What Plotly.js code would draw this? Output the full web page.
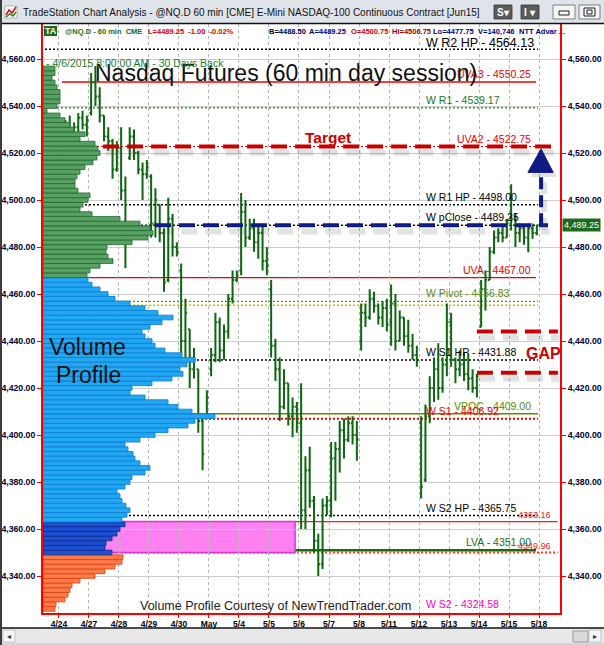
<!DOCTYPE html>
<html><head><meta charset="utf-8">
<script src="https://cdn.plot.ly/plotly-3.0.1.min.js"></script>
<style>html,body{margin:0;padding:0;background:#fff;overflow:hidden}#chart{width:604px;height:645px}</style>
</head><body><div id="chart"></div>
<script>
// ================= DATA =================
const dayLabels = ['4/24','4/27','4/28','4/29','4/30','May','5/4','5/5','5/6','5/7','5/8','5/11','5/12','5/13','5/14','5/15','5/18'];
const barsPerDay = 7; // 60-min day session bars

// hourly bars (7 per day), 4/24 .. 5/15
const barOpen = [
 4522,4526,4531,4529,4531,4535,4532,   // 4/24
 4537,4550,4544,4536,4527,4525,4513,   // 4/27
 4522,4504,4518,4527,4520,4513,4511,   // 4/28
 4510,4490,4498,4486,4466,4492,4480,   // 4/29
 4470,4440,4445,4428,4428,4406,4408,   // 4/30
 4428,4434,4448,4436,4444,4458,4466,   // 5/1
 4470,4495,4484,4488,4482,4486,4474,   // 5/4
 4462,4438,4428,4412,4422,4408,4412,   // 5/5
 4405,4368,4385,4372,4355,4345,4370,   // 5/6
 4372,4390,4394,4402,4398,4405,4400,   // 5/7
 4440,4452,4450,4458,4455,4450,4454,   // 5/8
 4448,4456,4440,4450,4442,4438,4434,   // 5/11
 4405,4381,4408,4420,4428,4420,4430,   // 5/12
 4448,4432,4428,4430,4426,4424,4420,   // 5/13
 4446,4462,4466,4478,4484,4486,4484,   // 5/14
 4500.75,4492,4486,4488,4484,4488,4486 // 5/15
];
const barHigh = [
 4528,4534,4536,4533,4537,4538,4536,
 4554,4557,4548,4536,4531,4526,4525,
 4531,4510,4531,4530,4521,4516,4517,
 4511,4505,4498,4488,4501,4494,4482,
 4473,4458,4445,4437,4428,4409,4419,
 4437,4452,4450,4447,4460,4470,4470,
 4503,4500,4492,4492,4490,4489,4480,
 4466,4441,4433,4428,4422,4416,4414,
 4422,4391,4395,4374,4358,4373,4374,
 4397,4397,4406,4407,4408,4408,4406,
 4456,4456,4462,4461,4456,4457,4458,
 4464,4460,4453,4450,4449,4443,4438,
 4408,4413,4425,4433,4439,4433,4456,
 4452,4433,4436,4435,4435,4428,4426,
 4466,4470,4480,4487,4488,4489,4492,
 4506.75,4494.5,4490,4488.5,4490,4490,4489.5
];
const barLow = [
 4515,4524,4527,4525,4528,4530,4527,
 4536,4540,4533,4525,4521,4509,4512,
 4500,4471,4517,4517,4511,4500,4509,
 4484,4484,4482,4461,4465,4476,4476,
 4432,4431,4420,4424,4401,4385,4407,
 4425,4431,4431,4432,4441,4456,4465,
 4468,4480,4483,4478,4475,4470,4468,
 4433,4423,4406,4411,4404,4399,4401,
 4360,4360,4369,4350,4340,4343,4366,
 4365,4372,4384,4390,4397,4396,4389,
 4436,4446,4449,4452,4447,4446,4444,
 4438,4436,4440,4438,4435,4432,4429,
 4373,4380,4405,4414,4415,4418,4425,
 4429,4422,4425,4423,4419,4418,4416,
 4446,4453,4466,4477,4482,4482,4484,
 4487,4480,4482,4481,4477.75,4483.5,4485
];
const barClose = [
 4526,4531,4529,4531,4535,4532,4534,
 4550,4544,4536,4527,4525,4513,4522,
 4504,4498,4527,4520,4513,4511,4514,
 4490,4500,4486,4465,4492,4480,4478,
 4440,4452,4428,4432,4406,4392,4416,
 4434,4448,4436,4444,4458,4466,4468,
 4495,4484,4488,4482,4486,4474,4472,
 4438,4428,4412,4422,4408,4412,4405,
 4368,4385,4372,4355,4345,4370,4372,
 4390,4394,4402,4398,4405,4400,4398,
 4452,4450,4458,4455,4450,4454,4447,
 4456,4440,4450,4442,4438,4434,4432,
 4378,4408,4420,4428,4420,4430,4448,
 4432,4428,4430,4426,4424,4420,4425,
 4462,4466,4478,4484,4486,4484,4490,
 4492,4486,4488,4484,4488,4486,4489.25
];

// volume profile (2-point price bins, 4326 .. 4556), relative volume
const profileLevels = [];
for (let p = 4326; p <= 4556; p += 2) profileLevels.push(p);
const profileVolume = [
 12,13,22,25,27,29,37,52,62,72,79,80,
 69,62,63,69,74,77,82,
 79,84,87,83,79,77,74,82,87,89,
 102,107,97,92,90,85,82,97,112,125,
 145,152,172,149,135,125,102,87,89,109,
 129,140,137,144,152,139,122,112,109,102,
 99,107,119,130,115,102,87,72,65,57,
 49,45,
 44,47,57,70,65,63,64,89,105,110,
 107,97,77,49,37,40,45,47,35,32,
 32,34,37,42,50,54,57,55,52,37,
 42,31,27,22,17,4,14,17,17,17,
 14,12,9,12,12
];

// key levels
const levelNames  = ['W R2 HP','UVA3','W R1','UVA2','W R1 HP','W pClose','UVA','W Pivot','W S1 HP','VPOC','W S1','W S2 HP','LVA','W S2'];
const levelValues = [4564.13,4550.25,4539.17,4522.75,4498.00,4489.25,4467.00,4456.83,4431.88,4409.00,4406.92,4365.75,4351.00,4324.58];
const extraLevels = [4455.25, 4363.16, 4349.96];
const gapLevels = [4444.0, 4426.5];
const lastPrice = 4489.25;

// ================= BUILD =================
const lv = n => levelValues[levelNames.indexOf(n)];
const barX = barOpen.map((_, k) => Math.floor(k / barsPerDay) + ((k % barsPerDay) + 0.5) / barsPerDay);
const PX = px => (px - 43) / 517;   // window pixel -> paper
const PY = py => (613 - py) / 589;
const FONT = 'Liberation Sans, Arial, sans-serif';
const yRange = [4324.26, 4574.9];
const yTicks = []; for (let v = 4340; v <= 4560; v += 20) yTicks.push(v);
const yText = yTicks.map(v => v.toLocaleString('en-US', {minimumFractionDigits: 2, maximumFractionDigits: 2}));

const uva = lv('UVA'), hiEdge = extraLevels[1], loEdge = extraLevels[2];
const profFill = profileLevels.map(p => p >= uva ? '#58a064' : p >= hiEdge ? '#22a8f2' : p >= loEdge ? '#1d4fd2' : '#ff7a48');
const profLine = profileLevels.map(p => p >= uva ? '#22692e' : p >= hiEdge ? '#0a7ad2' : p >= loEdge ? '#0a2a8e' : '#d8440e');

const traces = [
 {type: 'ohlc', x: barX, open: barOpen, high: barHigh, low: barLow, close: barClose,
  xaxis: 'x', yaxis: 'y', tickwidth: 0.4, hoverinfo: 'skip', showlegend: false,
  increasing: {line: {color: '#0d6610', width: 2}}, decreasing: {line: {color: '#0d6610', width: 2}}},
 {type: 'bar', orientation: 'h', x: profileVolume, y: profileLevels, width: 2, xaxis: 'x2', yaxis: 'y',
  marker: {color: profFill, line: {color: profLine, width: 0.8}}, hoverinfo: 'skip', showlegend: false},
 {type: 'scatter', x: [], y: [], xaxis: 'x', yaxis: 'y2', hoverinfo: 'skip', showlegend: false}
];

const shapes = [], ann = [];
const lineEnd = 15.97, labLeft = 12.17, labRight = 15.8;
const DOT = '2px,2px';
const style = {
 'W R2 HP': {c: '#000', d: DOT, w: 1.5, a: 'left', s: 12.5, mid: 6},
 'UVA3':    {c: '#ee0000', d: 'solid', w: 1.5, a: 'right', x0: 0.1, x1: 15.9},
 'W R1':    {c: '#1a7a1a', d: DOT, w: 1.3, a: 'left'},
 'UVA2':    {c: '#ee0000', d: DOT, w: 1, a: 'right'},
 'W R1 HP': {c: '#000', d: DOT, w: 1.5, a: 'left'},
 'W pClose':{c: '#000', d: DOT, w: 1.5, a: 'left'},
 'UVA':     {c: '#ee0000', d: 'solid', w: 1.3, a: 'right', x1: 15.9},
 'W Pivot': {c: '#5e8a0a', d: DOT, w: 1.3, a: 'left'},
 'W S1 HP': {c: '#000', d: DOT, w: 1.5, a: 'left'},
 'VPOC':    {c: '#5e8a00', d: 'solid', w: 1.5, a: 'right'},
 'W S1':    {c: '#ee0000', d: DOT, w: 2, a: 'left'},
 'W S2 HP': {c: '#000', d: DOT, w: 1.3, a: 'left'},
 'LVA':     {c: '#157015', d: 'solid', w: 2.5, a: 'right', x1: 15.9},
 'W S2':    {c: '#ff00cc', d: 'none', w: 0, a: 'left'}
};
levelNames.forEach((n, i) => {
  const st = style[n], v = levelValues[i];
  if (st.d !== 'none') shapes.push({type: 'line', layer: 'below', xref: 'x', yref: 'y', x0: st.x0 !== undefined ? st.x0 : -1, x1: st.x1 || lineEnd, y0: v, y1: v,
    line: {color: st.c, width: st.w, dash: st.d}});
  ann.push({xref: 'x', yref: 'y', x: st.a === 'left' ? labLeft : labRight, y: v, xanchor: st.a,
    yanchor: st.mid ? 'middle' : 'bottom', yshift: st.mid || 0,
    text: n + ' - ' + v.toFixed(2), showarrow: false, font: {family: FONT, size: st.s || 10.5, color: st.c}});
});
// extra unlabeled / small labeled lines
shapes.push({type: 'line', layer: 'below', xref: 'x', yref: 'y', x0: -1, x1: lineEnd, y0: extraLevels[0], y1: extraLevels[0], line: {color: '#c4c400', width: 1.5, dash: DOT}});
shapes.push({type: 'line', layer: 'below', xref: 'x', yref: 'y', x0: -1, x1: 16.62, y0: extraLevels[1], y1: extraLevels[1], line: {color: '#ff1a1a', width: 1.3}});
shapes.push({type: 'line', layer: 'below', xref: 'x', yref: 'y', x0: -1, x1: 16.62, y0: extraLevels[2], y1: extraLevels[2], line: {color: '#ff3a1a', width: 2, dash: DOT}});
[1, 2].forEach(k => ann.push({xref: 'x', yref: 'y', x: 16.47, y: extraLevels[k], xanchor: 'right', yanchor: 'bottom',
  text: extraLevels[k].toFixed(2), showarrow: false, font: {family: FONT, size: 9, color: '#ee1a1a'}}));
// pink low-volume zone
shapes.push({type: 'rect', layer: 'below', xref: 'x', yref: 'y', x0: -1, x1: 7.87, y0: extraLevels[2], y1: extraLevels[1],
  fillcolor: '#ff80f0', line: {color: '#e030d8', width: 1.5}});

// ---- hand drawn annotations ----
const tgt = lv('UVA2'), pc = lv('W pClose');
const RD = '16px,8px';
const shadow = 'rgba(60,60,60,0.15)';
shapes.push({type: 'line', layer: 'above', xref: 'x', yref: 'y', x0: 1.55, x1: 16.65, y0: tgt - 2.6, y1: tgt - 2.6, line: {color: shadow, width: 6, dash: RD}});
shapes.push({type: 'line', layer: 'above', xref: 'x', yref: 'y', x0: 1.47, x1: 16.6, y0: tgt, y1: tgt, line: {color: '#c80000', width: 4, dash: RD}});
shapes.push({type: 'line', layer: 'above', xref: 'x', yref: 'y', x0: 3.28, x1: 16.35, y0: pc - 2.6, y1: pc - 2.6, line: {color: shadow, width: 6, dash: RD}});
shapes.push({type: 'line', layer: 'above', xref: 'x', yref: 'y', x0: 3.2, x1: 16.3, y0: pc, y1: pc, line: {color: '#101a85', width: 4, dash: RD}});
gapLevels.forEach(g => {
  shapes.push({type: 'line', layer: 'above', xref: 'x', yref: 'y', x0: 14.0, x1: 16.68, y0: g - 2.6, y1: g - 2.6, line: {color: shadow, width: 6, dash: RD}});
  shapes.push({type: 'line', layer: 'above', xref: 'x', yref: 'y', x0: 13.93, x1: 16.63, y0: g, y1: g, line: {color: '#c80000', width: 4, dash: RD}});
});
// arrow up to target
const ax = 16.07, aBase = tgt - 11, aTip = tgt - 1;
shapes.push({type: 'line', layer: 'above', xref: 'x', yref: 'y', x0: ax + 0.1, x1: ax + 0.1, y0: pc - 2, y1: aBase - 2, line: {color: shadow, width: 6, dash: '12px,6px'}});
shapes.push({type: 'path', layer: 'above', xref: 'x', yref: 'y', fillcolor: shadow, line: {width: 0},
  path: `M ${ax - 0.34} ${aBase - 2} L ${ax + 0.54} ${aBase - 2} L ${ax + 0.1} ${aTip - 2} Z`});
shapes.push({type: 'line', layer: 'above', xref: 'x', yref: 'y', x0: ax, x1: ax, y0: pc, y1: aBase, line: {color: '#101a85', width: 4, dash: '12px,6px'}});
shapes.push({type: 'path', layer: 'above', xref: 'x', yref: 'y', fillcolor: '#101a85', line: {color: '#101a85', width: 1},
  path: `M ${ax - 0.44} ${aBase} L ${ax + 0.40} ${aBase} L ${ax} ${aTip} Z`});

// ---- texts ----
const txt = (px, py, text, size, color, opt) => ann.push(Object.assign({xref: 'paper', yref: 'paper', x: PX(px), y: PY(py),
  xanchor: 'center', yanchor: 'middle', text, showarrow: false, font: {family: FONT, size, color}}, opt || {}));
txt(286, 73, 'Nasdaq Futures (60 min day session)', 23, '#111');
txt(87, 347, 'Volume', 23, '#111');
txt(88, 375, 'Profile', 23, '#111');
txt(328, 137, 'Target', 15.5, '#cc0000', {font: {family: FONT, size: 15.5, color: '#cc0000', weight: 'bold'}});
txt(543, 353, 'GAP', 16, '#cc0000', {font: {family: FONT, size: 16, color: '#cc0000', weight: 'bold'}});
txt(275, 606, 'Volume Profile Courtesy of NewTrendTrader.com', 12.5, '#222');
txt(44, 63, '- 4/6/2015 8:00:00 AM - 30 Days Back', 10.5, '#2a7a2a', {xanchor: 'left'});

// info bar
shapes.push({type: 'rect', layer: 'above', xref: 'paper', yref: 'paper', x0: PX(44), x1: PX(57), y0: PY(36), y1: PY(26), fillcolor: '#1c6a1c', line: {width: 0}});
txt(50.5, 31, 'TA', 9, '#fff', {font: {family: FONT, size: 9, color: '#fff', weight: 'bold'}});
[[63, '@NQ.D - 60 min  CME', '#1a6e1a'], [146, 'L=4489.25  -1.00  -0.02%', '#e00000'], [267, 'B=4488.50', '#000040'],
 [307, 'A=4489.25', '#000080'], [349, 'O=4500.75', '#e00000'], [390, 'Hi=4506.75', '#a00000'],
 [431, 'Lo=4477.75', '#000080'], [476, 'V=140,746', '#000080'], [517, 'NTT Advar ...', '#000080']]
 .forEach(([x, t, c]) => txt(x, 31, t, 7.5, c, {xanchor: 'left', font: {family: FONT, size: 7.5, color: c, weight: 'bold'}}));

// current price tag
ann.push({xref: 'paper', yref: 'y', x: PX(562), y: lastPrice, xanchor: 'left', yanchor: 'middle', showarrow: false,
  text: lastPrice.toLocaleString('en-US', {minimumFractionDigits: 2}), bgcolor: '#1c6a1c', borderpad: 1,
  font: {family: FONT, size: 9, color: '#fff'}});

// ---- window chrome ----
const rectP = (x0, y0, x1, y1, fill, line) => shapes.push({type: 'rect', layer: 'above', xref: 'paper', yref: 'paper',
  x0: PX(x0), x1: PX(x1), y0: PY(y1), y1: PY(y0), fillcolor: fill, line: line || {width: 0}});
const lineP = (x0, y0, x1, y1, color, w) => shapes.push({type: 'line', layer: 'above', xref: 'paper', yref: 'paper',
  x0: PX(x0), x1: PX(x1), y0: PY(y0), y1: PY(y1), line: {color, width: w}});
rectP(0, 0, 604, 23, '#dfe4ea');
lineP(0, 23.5, 604, 23.5, '#111', 1.5);
rectP(0, 0, 2, 645, '#3c3c3c');
// title icon
rectP(5, 6, 17, 18, '#ffffff', {color: '#777', width: 0.5});
shapes.push({type: 'path', layer: 'above', xref: 'paper', yref: 'paper', line: {color: '#d01010', width: 1.5},
  path: `M ${PX(6)} ${PY(15)} L ${PX(9)} ${PY(10)} L ${PX(12)} ${PY(13)} L ${PX(16)} ${PY(7)}`});
shapes.push({type: 'path', layer: 'above', xref: 'paper', yref: 'paper', line: {color: '#1a8a1a', width: 1.5},
  path: `M ${PX(6)} ${PY(17)} L ${PX(10)} ${PY(14)} L ${PX(13)} ${PY(16)} L ${PX(16)} ${PY(12)}`});
txt(21, 12, 'TradeStation Chart Analysis - @NQ.D 60 min [CME] E-Mini NASDAQ-100 Continuous Contract [Jun15]', 10, '#111', {xanchor: 'left'});
rectP(494, 5, 512, 19, '#5b5b5b', {color: '#333', width: 0.8});
txt(503, 12, 'S▾', 10, '#fff', {font: {family: FONT, size: 10, color: '#fff', weight: 'bold'}});
rectP(521, 5, 539, 19, '#5b5b5b', {color: '#333', width: 0.8});
txt(530, 12, 'I ▾', 10, '#fff', {font: {family: FONT, size: 10, color: '#fff', weight: 'bold'}});
rectP(553, 5, 575, 19, '#f4f4f4', {color: '#666', width: 0.8});
rectP(559, 11, 569, 15, '#f4f4f4', {color: '#222', width: 1});
rectP(579, 5, 600, 19, '#f4f4f4', {color: '#666', width: 0.8});
rectP(584, 8, 595, 16, '#f4f4f4', {color: '#222', width: 1});
rectP(587, 10, 592, 14, '#f4f4f4', {color: '#222', width: 1});
// bottom scrollbar
lineP(2, 628, 604, 628, '#111', 1.5);
rectP(2, 629, 604, 643, '#e8e8e8');
rectP(3, 630, 15, 642, '#f6f6f6', {color: '#aaa', width: 0.6});
txt(9, 636, '◂', 8, '#333');
rectP(573, 631, 588, 642, '#dadada', {color: '#888', width: 0.8});
rectP(589, 630, 601, 642, '#f6f6f6', {color: '#aaa', width: 0.6});
txt(595, 636, '▸', 8, '#333');
rectP(2, 643, 604, 645, '#cdd5de');

const axFont = {family: FONT, size: 8.7, color: '#000033', weight: 'bold'};
const layout = {
  width: 604, height: 645, margin: {l: 43, r: 44, t: 24, b: 32, pad: 0},
  paper_bgcolor: '#ffffff', plot_bgcolor: '#ffffff', showlegend: false, bargap: 0, hovermode: false,
  xaxis: {range: [-0.533, 16.7], tickmode: 'array', tickvals: dayLabels.map((_, i) => i), ticktext: dayLabels,
    showgrid: true, gridcolor: '#b4b4b4', griddash: '3px,3px', gridwidth: 1, zeroline: false,
    ticks: 'outside', ticklen: 3, tickcolor: '#ff0000', tickwidth: 1, ticklabelstandoff: -1,
    tickfont: {family: FONT, size: 8.5, color: '#000', weight: 'bold'},
    showline: true, linecolor: '#ff0000', linewidth: 1.5, rangeslider: {visible: false}, fixedrange: true},
  xaxis2: {overlaying: 'x', range: [0, 517], visible: false, fixedrange: true},
  yaxis: {range: yRange, tickmode: 'array', tickvals: yTicks, ticktext: yText, side: 'left',
    showgrid: true, gridcolor: '#cccccc', gridwidth: 1, zeroline: false,
    ticks: 'outside', ticklen: 4, tickcolor: '#ff0000', tickfont: axFont,
    showline: true, linecolor: '#ff0000', linewidth: 2, fixedrange: true},
  yaxis2: {overlaying: 'y', side: 'right', anchor: 'x', range: yRange, tickmode: 'array', tickvals: yTicks, ticktext: yText,
    showgrid: false, zeroline: false, ticks: 'outside', ticklen: 4, tickcolor: '#ff0000', tickfont: axFont,
    showline: true, linecolor: '#ff0000', linewidth: 2, fixedrange: true},
  shapes, annotations: ann
};
Plotly.newPlot('chart', traces, layout, {staticPlot: true, displayModeBar: false});
</script></body></html>
